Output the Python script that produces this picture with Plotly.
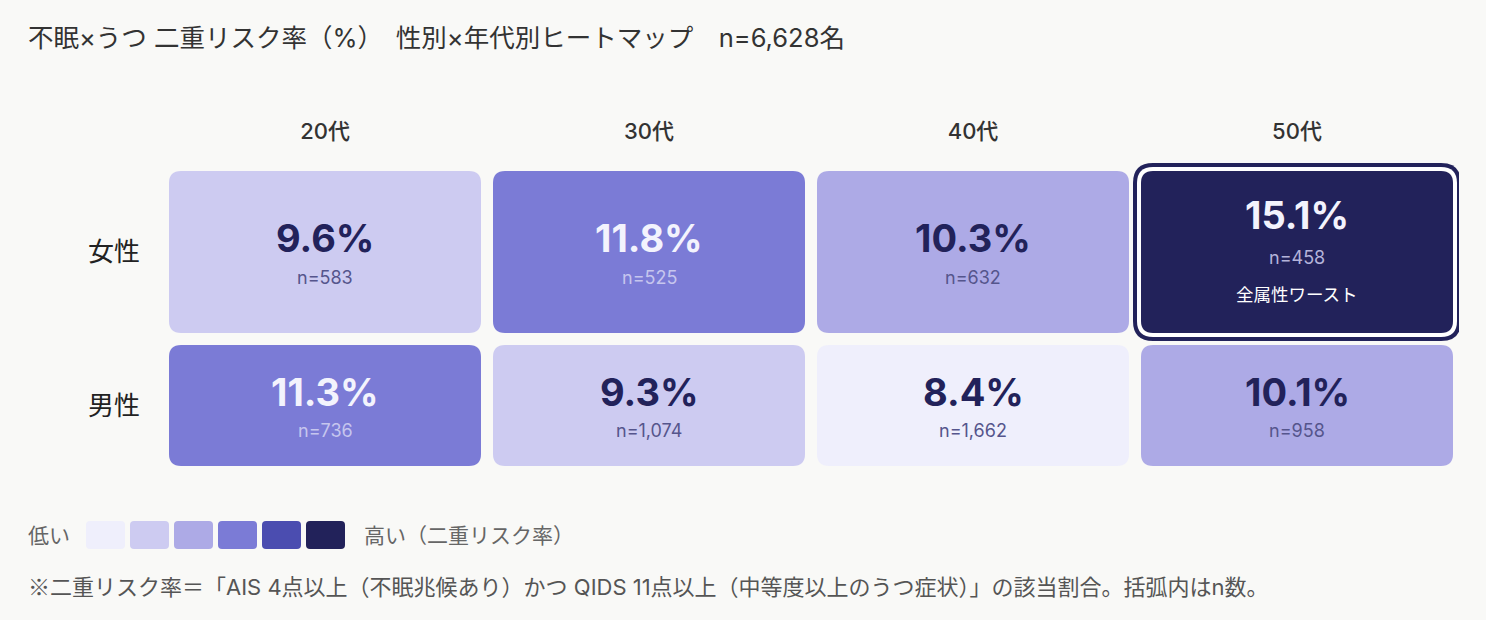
import plotly.graph_objects as go

W, H = 1486, 620

# data
ages = ["20代", "30代", "40代", "50代"]
sexes = ["女性", "男性"]
rate_female = [9.6, 11.8, 10.3, 15.1]
rate_male = [11.3, 9.3, 8.4, 10.1]
n_female = [583, 525, 632, 458]
n_male = [736, 1074, 1662, 958]
worst_label = "全属性ワースト"

palette = ["#EFEFFC", "#CDCBF1", "#ADAAE6", "#7B7BD6", "#4B4DB0", "#22225A"]
bin_edges = [9, 10, 11, 13, 15]

title = "不眠×うつ 二重リスク率（%）　性別×年代別ヒートマップ　n=6,628名"
legend_low = "低い"
legend_high = "高い（二重リスク率）"
note_mark = "※"
note = "二重リスク率＝「AIS 4点以上（不眠兆候あり）かつ QIDS 11点以上（中等度以上のうつ症状）」の該当割合。括弧内はn数。"

rates = [rate_female, rate_male]
counts = [n_female, n_male]

# layout geometry (pixels)
BG = "#F9F9F7"
CJK = "Noto Sans CJK JP"
JP = "Inter, Noto Sans CJK JP"
NUM = "Inter"
COL_PITCH = 324
CELL_W = 312
ROW_TOP = [0, 174]        # y axis is in px, 0 = top of grid
ROW_H = [162, 121]
RADIUS = 12
X_DOM = (163, 1459)
Y_DOM = (160, 475)
Y_RANGE = (-11, 304)


def bin_of(v):
    return sum(v >= e for e in bin_edges)


def rounded(x0, y0, x1, y1, rx, ry):
    return (f"M {x0 + rx},{y0} L {x1 - rx},{y0} Q {x1},{y0} {x1},{y0 + ry} "
            f"L {x1},{y1 - ry} Q {x1},{y1} {x1 - rx},{y1} L {x0 + rx},{y1} "
            f"Q {x0},{y1} {x0},{y1 - ry} L {x0},{y0 + ry} Q {x0},{y0} {x0 + rx},{y0} Z")


xu = 1 / COL_PITCH          # one pixel in x data units
hw = CELL_W / 2 * xu

all_vals = [v for row in rates for v in row]
worst = max(all_vals)

shapes = []
annotations = []

for r, sex in enumerate(sexes):
    y0 = ROW_TOP[r]
    y1 = y0 + ROW_H[r]
    cy = (y0 + y1) / 2
    for c, age in enumerate(ages):
        v = rates[r][c]
        n = counts[r][c]
        b = bin_of(v)
        fill = palette[b]
        is_worst = v == worst
        if is_worst:
            # double ring: dark outside, white inside
            for pad, col in [(8, palette[-1]), (4, "#FFFFFF")]:
                shapes.append(dict(type="path", xref="x", yref="y",
                                   path=rounded(c - hw - pad * xu, y0 - pad, c + hw + pad * xu, y1 + pad,
                                                (RADIUS + pad) * xu, RADIUS + pad),
                                   fillcolor=col, line=dict(width=0), layer="below"))
        shapes.append(dict(type="path", xref="x", yref="y",
                           path=rounded(c - hw, y0, c + hw, y1, RADIUS * xu, RADIUS),
                           fillcolor=fill, line=dict(width=0), layer="below"))
        dark = b >= 3
        pct_col = "#F3F3FD" if dark else "#22225A"
        n_col = "#C6C6EE" if dark else "#55558C"
        if is_worst:
            n_col = "#B4B4DA"
            off = (-37, 5)
        else:
            off = (-14, 25)
        annotations.append(dict(x=c, y=cy + off[0], xref="x", yref="y", text=f"<b>{v:.1f}%</b>",
                                showarrow=False, font=dict(family=NUM, size=38, color=pct_col)))
        annotations.append(dict(x=c, y=cy + off[1], xref="x", yref="y", text=f"n={n:,}",
                                showarrow=False, font=dict(family=NUM, size=18, color=n_col)))
        if is_worst:
            annotations.append(dict(x=c, y=cy + 42, xref="x", yref="y", text=worst_label,
                                    showarrow=False, font=dict(family=JP, size=17.5, color="#FFFFFF")))

# title
annotations.append(dict(x=26 / W, y=1 - 37 / H, xref="paper", yref="paper", text=title,
                        xanchor="left", yanchor="middle", showarrow=False,
                        font=dict(family=JP, size=25.5, color="#333333")))

# legend
annotations.append(dict(x=26 / W, y=1 - 535 / H, xref="paper", yref="paper", text=legend_low,
                        xanchor="left", yanchor="middle", showarrow=False,
                        font=dict(family=JP, size=21, color="#666666")))
sw_x, sw_w, sw_gap, sw_top, sw_h = 86, 39, 5, 521, 28
for i, col in enumerate(palette):
    x0 = sw_x + i * (sw_w + sw_gap)
    shapes.append(dict(type="path", xref="paper", yref="paper",
                       path=rounded(x0 / W, 1 - sw_top / H, (x0 + sw_w) / W, 1 - (sw_top + sw_h) / H,
                                    4 / W, -4 / H),
                       fillcolor=col, line=dict(width=0)))
annotations.append(dict(x=(sw_x + len(palette) * (sw_w + sw_gap) + 12) / W, y=1 - 535 / H,
                        xref="paper", yref="paper", text=legend_high,
                        xanchor="left", yanchor="middle", showarrow=False,
                        font=dict(family=JP, size=21, color="#666666")))

# footnote
annotations.append(dict(x=26 / W, y=1 - 585 / H, xref="paper", yref="paper",
                        text=f"<span style='font-family:{CJK}'>{note_mark}</span>{note}",
                        xanchor="left", yanchor="middle", showarrow=False,
                        font=dict(family=JP, size=22, color="#555555")))

fig = go.Figure()
# invisible trace so the axes draw
fig.add_trace(go.Scatter(x=list(range(len(ages))), y=[sum(ROW_TOP) / 2] * len(ages),
                         mode="markers", marker=dict(opacity=0), hoverinfo="skip", showlegend=False))

fig.update_layout(
    width=W, height=H,
    margin=dict(l=0, r=0, t=0, b=0),
    paper_bgcolor=BG, plot_bgcolor=BG,
    shapes=shapes, annotations=annotations,
    showlegend=False,
    xaxis=dict(domain=[X_DOM[0] / W, X_DOM[1] / W], range=[-0.5, len(ages) - 0.5],
               side="top", tickvals=list(range(len(ages))), ticktext=ages,
               tickfont=dict(family=JP, size=22, color="#333333", weight=500),
               ticks="", ticklabelstandoff=16, showgrid=False, zeroline=False, showline=False,
               fixedrange=True),
    yaxis=dict(domain=[1 - Y_DOM[1] / H, 1 - Y_DOM[0] / H], range=[Y_RANGE[1], Y_RANGE[0]],
               tickvals=[t + h / 2 for t, h in zip(ROW_TOP, ROW_H)], ticktext=sexes,
               tickfont=dict(family=JP, size=26, color="#222222"),
               ticks="", ticklabelstandoff=22, showgrid=False, zeroline=False, showline=False,
               fixedrange=True),
)

fig.write_html("out.html", config={"displayModeBar": False},
               post_script="document.body.style.margin='0';")
